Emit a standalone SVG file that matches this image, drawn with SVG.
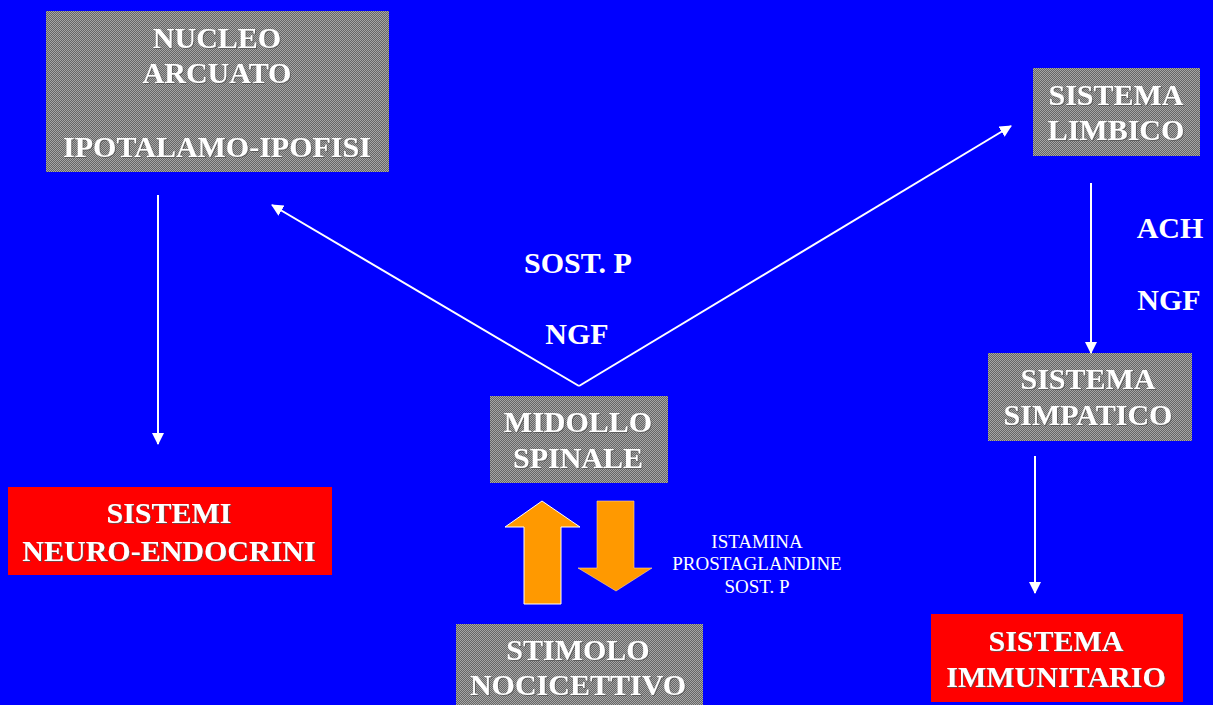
<svg xmlns="http://www.w3.org/2000/svg" width="1213" height="705" viewBox="0 0 1213 705">
  <defs>
    <!-- fine dither used as the fill of the grey nodes -->
    <pattern id="dither" width="2" height="2" patternUnits="userSpaceOnUse">
      <rect width="2" height="2" fill="#666"/>
      <rect width="1" height="1" fill="#a6a6a6"/>
      <rect x="1" y="1" width="1" height="1" fill="#a6a6a6"/>
    </pattern>
    <filter id="emboss" x="-5%" y="-20%" width="110%" height="140%">
      <feDropShadow dx="1" dy="1" stdDeviation="0.4" flood-color="#555" flood-opacity="0.8"/>
    </filter>
    <marker id="head" markerWidth="14" markerHeight="14" refX="11" refY="6" orient="auto" markerUnits="userSpaceOnUse">
      <path d="M0,0 L12,6 L0,12 z" fill="#fff"/>
    </marker>
    <style>
      .bg { fill: #0000ff; }
      .grey { fill: url(#dither); }
      .red { fill: #ff0000; }
      .t { font-family: "Liberation Serif", "Times New Roman", serif; font-weight: bold; font-size: 30px; fill: #fff; text-anchor: middle; filter: url(#emboss); }
      .lbl { font-family: "Liberation Serif", "Times New Roman", serif; font-weight: bold; font-size: 30px; fill: #fff; text-anchor: middle; }
      .small { font-family: "Liberation Serif", "Times New Roman", serif; font-size: 19px; fill: #fff; text-anchor: middle; }
      .link { stroke: #fff; stroke-width: 2; fill: none; marker-end: url(#head); }
      .orange { fill: #ff9900; }
    </style>
  </defs>

  <rect class="bg" width="1213" height="705"/>

  <g id="nucleo-arcuato">
    <rect class="grey" x="46" y="11" width="343" height="161"/>
    <text class="t" x="217" y="48">NUCLEO</text>
    <text class="t" x="217" y="83">ARCUATO</text>
    <text class="t" x="217" y="157">IPOTALAMO-IPOFISI</text>
  </g>

  <g id="sistema-limbico">
    <rect class="grey" x="1033" y="68" width="167" height="88"/>
    <text class="t" x="1116" y="105">SISTEMA</text>
    <text class="t" x="1116" y="140">LIMBICO</text>
  </g>

  <g id="midollo-spinale">
    <rect class="grey" x="490" y="396" width="178" height="87"/>
    <text class="t" x="578" y="432">MIDOLLO</text>
    <text class="t" x="578" y="468">SPINALE</text>
  </g>

  <g id="sistema-simpatico">
    <rect class="grey" x="988" y="353" width="204" height="88"/>
    <text class="t" x="1088" y="389">SISTEMA</text>
    <text class="t" x="1088" y="425">SIMPATICO</text>
  </g>

  <g id="stimolo-nocicettivo">
    <rect class="grey" x="456" y="624" width="247" height="90"/>
    <text class="t" x="578" y="660">STIMOLO</text>
    <text class="t" x="578" y="695">NOCICETTIVO</text>
  </g>

  <g id="sistemi-neuro-endocrini">
    <rect class="red" x="8" y="487" width="324" height="88"/>
    <text class="t" x="169" y="523">SISTEMI</text>
    <text class="t" x="169" y="561">NEURO-ENDOCRINI</text>
  </g>

  <g id="sistema-immunitario">
    <rect class="red" x="931" y="614" width="252" height="88"/>
    <text class="t" x="1056" y="651">SISTEMA</text>
    <text class="t" x="1056" y="687">IMMUNITARIO</text>
  </g>

  <g id="connectors">
    <line class="link" x1="158" y1="195" x2="158" y2="444"/>
    <polyline class="link" points="579,386 272,205"/>
    <polyline class="link" points="579,386 1011,126"/>
    <line class="link" x1="1091" y1="183" x2="1091" y2="353"/>
    <line class="link" x1="1035" y1="456" x2="1035" y2="593"/>

    <!-- two-way exchange between cord and stimulus -->
    <path class="orange" d="M542,501 L580,527 L561,527 L561,604 L524,604 L524,527 L505,527 Z" stroke="#fff" stroke-width="1"/>
    <path class="orange" d="M597,501 L634,501 L634,568 L652,568 L616,591 L578,568 L597,568 Z" stroke="#ffd9a0" stroke-width="0.6"/>
  </g>

  <g id="labels">
    <text class="lbl" x="578" y="273">SOST. P</text>
    <text class="lbl" x="577" y="344">NGF</text>
    <text class="lbl" x="1170" y="238">ACH</text>
    <text class="lbl" x="1169" y="310">NGF</text>
    <text class="small" x="757" y="548">ISTAMINA</text>
    <text class="small" x="757" y="570">PROSTAGLANDINE</text>
    <text class="small" x="757" y="593">SOST. P</text>
  </g>
</svg>
